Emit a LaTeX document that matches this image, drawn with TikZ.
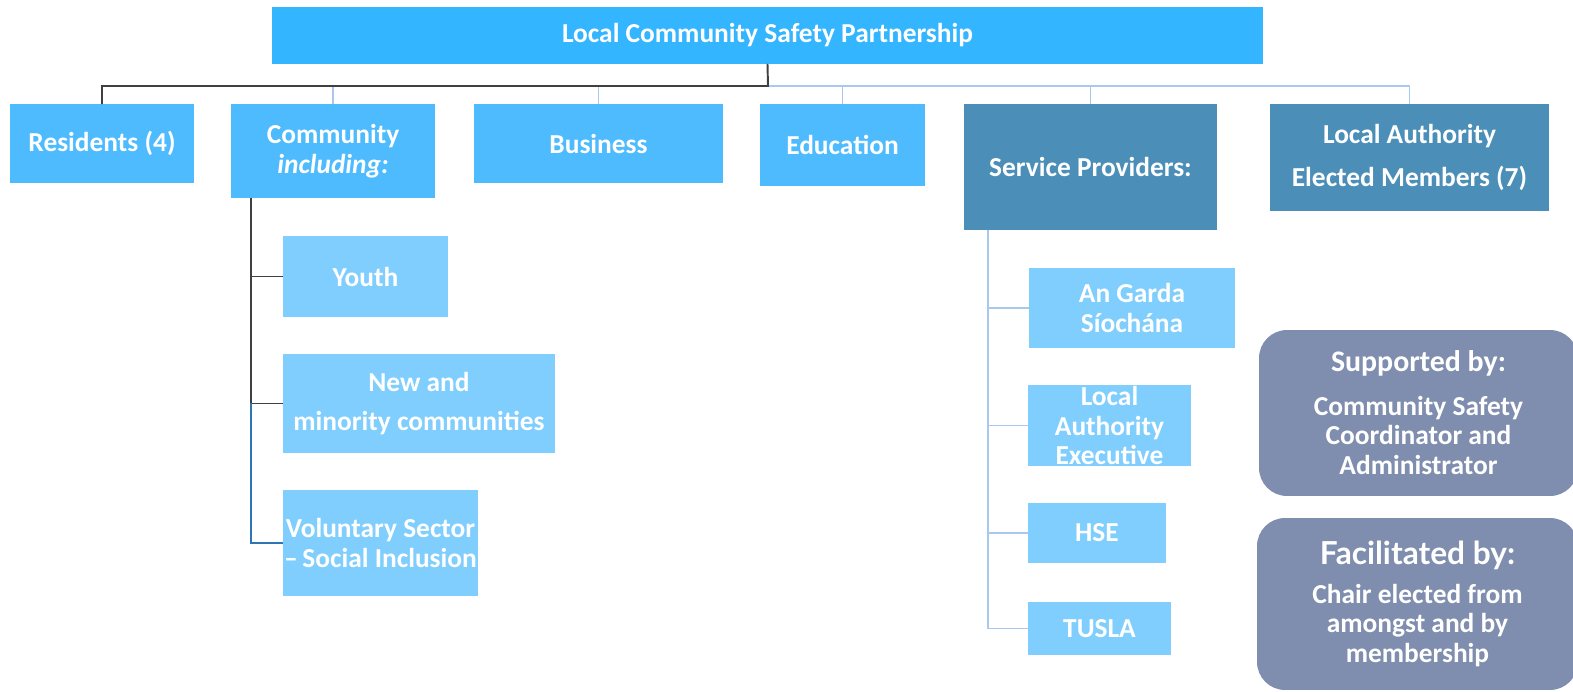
\documentclass[tikz,border=0pt]{standalone}
\usepackage{fontspec}
\setmainfont{Carlito}
\newfontfamily\facfont{Lato}
\usetikzlibrary{positioning}
\tikzset{
  box/.style={inner sep=0pt,outer sep=0pt,align=center,text=white,font=\fontsize{15.6}{17}\selectfont\bfseries},
  lineD/.style={draw=cDark,line width=1.1pt},
  lineL/.style={draw=cLight,line width=0.8pt},
}
\begin{document}
\begin{tikzpicture}[x=0.02cm,y=-0.02cm]
%
\useasboundingbox (0,0) rectangle (1573,692);
%
\definecolor{cTop}{HTML}{33B5FF}
\definecolor{cRow}{HTML}{4DBBFD}
\definecolor{cSub}{HTML}{80CEFE}
\definecolor{cDkBox}{HTML}{4B8EB8}
\definecolor{cRnd}{HTML}{7F8EAE}
\definecolor{cDark}{HTML}{404040}
\definecolor{cLight}{HTML}{A8C8F0}
\definecolor{cMid}{HTML}{2E75B6}
%
\node[box,fill=cTop,minimum width=19.82cm,minimum height=1.14cm] (top) at (767.5,35.5) {Local Community Safety Partnership};
%
\node[box,fill=cRow,minimum width=3.68cm,minimum height=1.58cm] (res) at (102,143.5) {Residents (4)};
\node[box,fill=cRow,minimum width=4.08cm,minimum height=1.88cm] (comm) at (333,151) {Community\\\textit{including:}};
\node[box,fill=cRow,minimum width=4.98cm,minimum height=1.58cm] (bus) at (598.5,143.5) {Business};
\node[box,fill=cRow,minimum width=3.30cm,minimum height=1.64cm] (edu) at (842.5,145) {Education};
\node[box,fill=cDkBox,minimum width=5.06cm,minimum height=2.52cm] (serv) at (1090.5,167) {Service Providers:};
\node[box,fill=cDkBox,minimum width=5.58cm,minimum height=2.14cm] (lael) at (1409.5,157.5) {Local Authority\\[7pt]Elected Members (7)};
%
\node[box,fill=cSub,minimum width=3.30cm,minimum height=1.62cm] (youth) at (365.5,276.5) {Youth};
\node[box,fill=cSub,minimum width=5.44cm,minimum height=1.98cm] (newmin) at (419,403.5) {New and\\[5.5pt]minority communities};
\node[box,fill=cSub,minimum width=3.90cm,minimum height=2.12cm] (vol) at (380.5,543) {Voluntary Sector\\--\,Social Inclusion};
%
\node[box,fill=cSub,minimum width=4.12cm,minimum height=1.60cm] (garda) at (1132,308) {An Garda\\Síochána};
\node[box,fill=cSub,minimum width=3.26cm,minimum height=1.62cm] (lae) at (1109.5,425.5) {Local\\Authority\\Executive};
\node[box,fill=cSub,minimum width=2.76cm,minimum height=1.20cm] (hse) at (1097,533) {HSE};
\node[box,fill=cSub,minimum width=2.86cm,minimum height=1.06cm] (tusla) at (1099.5,628.5) {TUSLA};
%
\node[box,fill=cRnd,rounded corners=0.56cm,minimum width=6.38cm,minimum height=3.32cm] (supp) at (1418.5,413) {{\fontsize{17}{17}\selectfont Supported by:}\\[7.5pt]Community Safety\\Coordinator and\\Administrator};
\node[box,fill=cRnd,rounded corners=0.56cm,minimum width=6.42cm,minimum height=3.44cm] (fac) at (1417.5,604) {{\facfont\fontsize{18}{17}\selectfont\bfseries Facilitated by:}\\[5pt]Chair elected from\\amongst and by\\membership};
%
\coordinate (spine) at (768,86);
\draw[lineL] (spine) -| (comm.north);
\draw[lineL] (spine) -| (bus.north);
\draw[lineL] (spine) -| (edu.north);
\draw[lineL] (spine) -| (serv.north);
\draw[lineL] (spine) -| (lael.north);
\draw[lineD] (top.south) -- (spine) -| (res.north);
%
\draw[lineD] ([xshift=0.4cm]comm.south west) |- (youth.west);
\draw[lineD] ([xshift=0.4cm]comm.south west) |- (newmin.west);
\draw[draw=cMid,line width=1.1pt] ([xshift=0.4cm]comm.south west |- newmin.west) |- (vol.west);
%
\draw[lineL] ([xshift=0.48cm]serv.south west) |- (garda.west);
\draw[lineL] ([xshift=0.48cm]serv.south west) |- (lae.west);
\draw[lineL] ([xshift=0.48cm]serv.south west) |- (hse.west);
\draw[lineL] ([xshift=0.48cm]serv.south west) |- (tusla.west);
%
\end{tikzpicture}
\end{document}
